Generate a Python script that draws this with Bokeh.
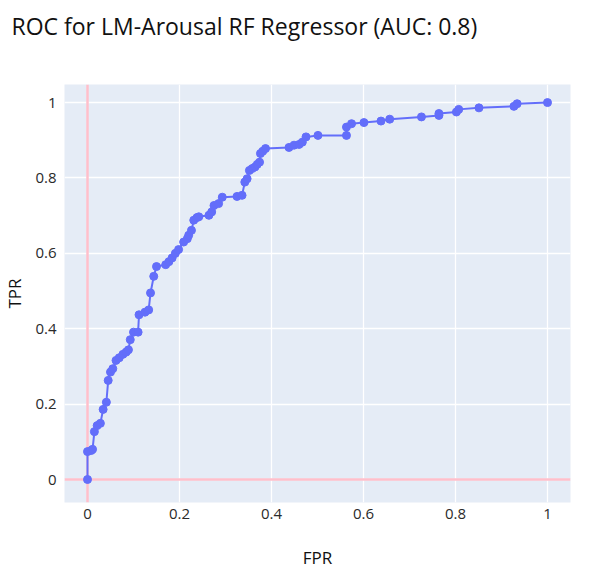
from bokeh.plotting import figure
from bokeh.models import Span, FixedTicker, Range1d
from bokeh.embed import file_html
from bokeh.resources import INLINE

title_text = "ROC for LM-Arousal RF Regressor (AUC: 0.8)"
x_title = "FPR"
y_title = "TPR"
tick_values = [0, 0.2, 0.4, 0.6, 0.8, 1]
tick_labels = ["0", "0.2", "0.4", "0.6", "0.8", "1"]

fpr = [0.000, 0.000, 0.008, 0.011, 0.015, 0.021, 0.028, 0.034, 0.041, 0.045,
       0.050, 0.055, 0.062, 0.069, 0.077, 0.084, 0.089, 0.093, 0.100, 0.110,
       0.112, 0.125, 0.133, 0.137, 0.144, 0.150, 0.170, 0.177, 0.184, 0.191,
       0.198, 0.209, 0.217, 0.220, 0.226, 0.231, 0.238, 0.242, 0.264, 0.270,
       0.275, 0.285, 0.293, 0.325, 0.336, 0.342, 0.347, 0.352, 0.358, 0.364,
       0.369, 0.374, 0.376, 0.381, 0.387, 0.438, 0.449, 0.460, 0.467, 0.475,
       0.501, 0.563, 0.563, 0.574, 0.601, 0.638, 0.657, 0.726, 0.764, 0.764,
       0.802, 0.807, 0.851, 0.927, 0.934, 1.000]
tpr = [0.000, 0.074, 0.077, 0.080, 0.127, 0.143, 0.149, 0.186, 0.205, 0.263,
       0.285, 0.294, 0.316, 0.323, 0.332, 0.338, 0.344, 0.371, 0.391, 0.391,
       0.437, 0.444, 0.450, 0.495, 0.539, 0.565, 0.570, 0.578, 0.588, 0.600,
       0.610, 0.630, 0.639, 0.648, 0.661, 0.688, 0.695, 0.697, 0.701, 0.710,
       0.727, 0.732, 0.749, 0.751, 0.754, 0.789, 0.798, 0.820, 0.825, 0.829,
       0.836, 0.842, 0.865, 0.871, 0.878, 0.881, 0.887, 0.889, 0.895, 0.909,
       0.913, 0.913, 0.935, 0.944, 0.947, 0.951, 0.956, 0.962, 0.966, 0.971,
       0.975, 0.982, 0.986, 0.990, 0.997, 1.000]

FONT = "Open Sans"
TEXT = "#2a2a2a"

p = figure(frame_width=506, frame_height=418, output_backend="svg",
           toolbar_location=None,
           x_range=Range1d(-0.05, 1.05), y_range=Range1d(-0.061, 1.048),
           min_border_left=64, min_border_right=2, min_border_top=84,
           min_border_bottom=60)
p.outline_line_color = None
p.background_fill_color = "#E5ECF6"
p.border_fill_color = "white"

# a blank trailing line keeps the visible title line near the top of the page
p.title.text = title_text + "\n"
p.title.text_font = FONT
p.title.text_font_size = "23px"
p.title.text_font_style = "normal"
p.title.text_color = "#111111"
p.title.text_line_height = 1.2
p.title.align = "left"
p.title.vertical_align = "top"
p.title.offset = -53
p.title.standoff = 6

for ax in (p.xaxis[0], p.yaxis[0]):
    ax.ticker = FixedTicker(ticks=tick_values)
    ax.major_label_overrides = {v: s for v, s in zip(tick_values, tick_labels)}
    ax.axis_line_color = None
    ax.major_tick_line_color = None
    ax.minor_tick_line_color = None
    ax.major_tick_out = 0
    ax.major_tick_in = 0
    ax.major_label_text_font = FONT
    ax.major_label_text_font_size = "15px"
    ax.major_label_text_color = TEXT
    ax.axis_label_text_font = FONT
    ax.axis_label_text_font_size = "17px"
    ax.axis_label_text_font_style = "normal"
    ax.axis_label_text_color = "#111111"

p.xaxis.axis_label = x_title
p.yaxis.axis_label = y_title
p.xaxis.major_label_standoff = 6
p.yaxis.major_label_standoff = 8
p.xaxis.axis_label_standoff = 24
p.yaxis.axis_label_standoff = 6

p.grid.grid_line_color = "white"
p.grid.grid_line_width = 1.3
p.xgrid.ticker = FixedTicker(ticks=tick_values)
p.ygrid.ticker = FixedTicker(ticks=tick_values)

vline = Span(location=0, dimension="height", line_color="#FFBFCB",
             line_width=2.5, level="underlay")
hline = Span(location=0, dimension="width", line_color="#FFBFCB",
             line_width=2.5, level="underlay")
p.add_layout(vline)
p.add_layout(hline)

p.line(fpr, tpr, line_color="#636EFA", line_width=2)
p.scatter(fpr, tpr, size=8, fill_color="#636EFA", line_color="#636EFA")

open("out.html", "w").write(file_html(p, INLINE))
